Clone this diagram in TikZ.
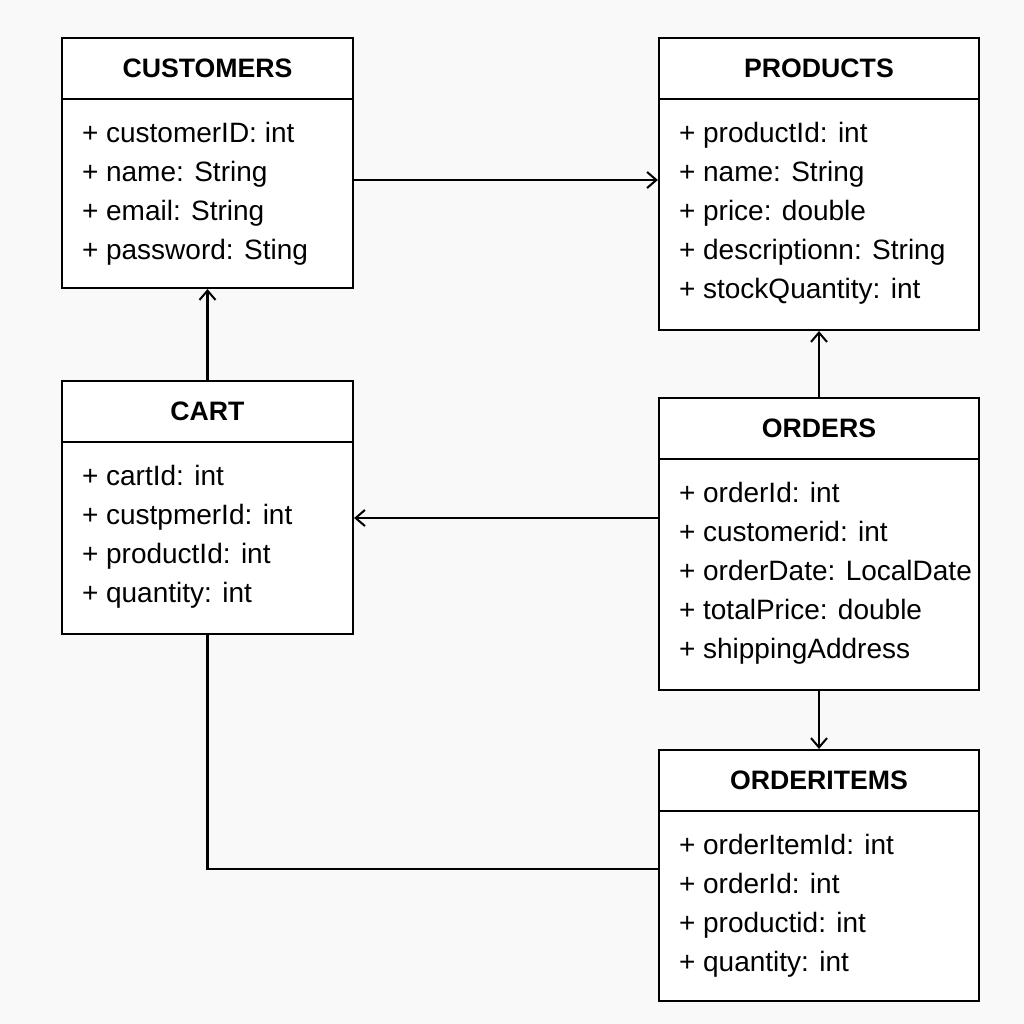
\documentclass[tikz,border=0pt]{standalone}
\usepackage{fontspec}
\setmainfont{Liberation Sans}
\usetikzlibrary{arrows.meta}

\definecolor{pagebg}{RGB}{249,249,249}
\tikzset{every picture/.style={line width=1.6pt}}
\tikzset{
  classbox/.style={draw, fill=white, rectangle, inner sep=0pt, minimum width=#1},
  classbox/.default=218.25pt,
  classtitle/.style={font=\fontsize{20}{24}\selectfont\bfseries, inner sep=0pt},
  attrs/.style={font=\fontsize{21}{29.25}\selectfont, align=left, inner sep=0pt, anchor=north west},
  link/.style={-{Straight Barb[length=7pt,width=12pt,line width=1.5pt]}},
}

\begin{document}
\begin{tikzpicture}[x=0.75pt,y=0.75pt,yscale=-1,xscale=1]
        \fill[pagebg] (0,0) rectangle (1024,1024);
        \useasboundingbox (0,0) rectangle (1024,1024);

        %Shape: Class boxes
        \node[classbox, minimum height=187.5pt] (customers) at (207.5,163) {};
        \node[classbox=240pt, minimum height=219pt] (products) at (819,184) {};
        \node[classbox, minimum height=189.75pt] (cart) at (207.5,507.5) {};
        \node[classbox=240pt, minimum height=219pt] (orders) at (819,544) {};
        \node[classbox=240pt, minimum height=188.25pt] (orderitems) at (819,875.5) {};

        %Straight Lines: header rules
        \foreach \cls in {customers,products,cart,orders,orderitems}
          \draw ([yshift=46.5pt]\cls.north west) -- ([yshift=46.5pt]\cls.north east);

        % Text Node
        \node[classtitle] (customersT) at ([yshift=23.25pt]customers.north) {CUSTOMERS};
        \node[classtitle] (productsT) at ([yshift=23.25pt]products.north) {PRODUCTS};
        \node[classtitle] (cartT) at ([yshift=23.25pt]cart.north) {CART};
        \node[classtitle] (ordersT) at ([yshift=23.25pt]orders.north) {ORDERS};
        \node[classtitle] (orderitemsT) at ([yshift=23.25pt]orderitems.north) {ORDERITEMS};

        % Text Node
        \node[attrs] (customersA) at ([xshift=15pt,yshift=63pt]customers.north west)
          {+ customerID: int\\+ name: String\\+ email: String\\+ password: Sting};
        \node[attrs] (productsA) at ([xshift=15pt,yshift=63pt]products.north west)
          {+ productId: int\\+ name: String\\+ price: double\\+ descriptionn: String\\+ stockQuantity: int};
        \node[attrs] (cartA) at ([xshift=15pt,yshift=63pt]cart.north west)
          {+ cartId: int\\+ custpmerId: int\\+ productId: int\\+ quantity: int};
        \node[attrs] (ordersA) at ([xshift=15pt,yshift=63pt]orders.north west)
          {+ orderId: int\\+ customerid: int\\+ orderDate: LocalDate\\+ totalPrice: double\\+ shippingAddress};
        \node[attrs] (orderitemsA) at ([xshift=15pt,yshift=63pt]orderitems.north west)
          {+ orderItemId: int\\+ orderId: int\\+ productid: int\\+ quantity: int};

        %Straight Lines: connectors
        \coordinate (cpRow) at (0,180);
        \coordinate (ocRow) at (0,518);
        \coordinate (ciRow) at (0,869);
        \draw[link] (customers.east |- cpRow) -- (products.west |- cpRow);
        \draw[link] (cart.north) -- (customers.south);
        \draw[link] (orders.north) -- (products.south);
        \draw[link] (orders.west |- ocRow) -- (cart.east |- ocRow);
        \draw[link] (orders.south) -- (orderitems.north);
        \draw (cart.south) |- (orderitems.west |- ciRow);
\end{tikzpicture}
\end{document}
